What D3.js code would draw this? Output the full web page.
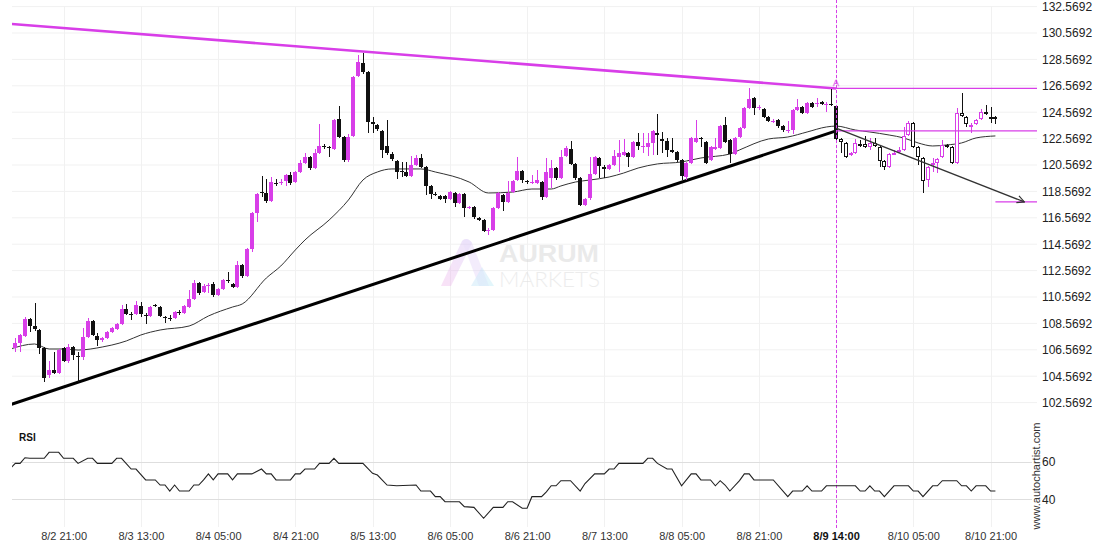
<!DOCTYPE html>
<html><head><meta charset="utf-8">
<script src="https://cdn.jsdelivr.net/npm/d3@7"></script>
<style>
html,body{margin:0;padding:0;background:#fff;}
svg{display:block;font-family:"Liberation Sans",Arial,sans-serif;}
</style></head><body>
<svg id="c" width="1110" height="550"></svg>
<script>
// ---------- DATA ----------
const open = [107.54,106.71,107.08,107.61,108.90,108.37,108.07,106.71,104.66,105.04,104.81,106.71,105.72,106.78,106.10,106.02,107.54,108.75,107.61,107.31,107.46,107.92,108.14,108.52,109.66,109.28,109.28,109.89,109.21,109.13,109.96,109.81,109.09,108.98,108.98,109.43,109.36,109.81,110.42,111.63,110.95,111.40,111.55,110.72,111.18,111.86,111.55,111.33,112.99,112.16,114.21,116.93,118.52,118.45,117.84,119.21,119.24,119.36,119.81,119.28,120.04,120.72,121.18,120.34,121.48,122.01,121.90,121.78,124.05,122.69,120.95,122.77,127.31,128.30,127.62,123.83,123.60,123.15,122.01,121.40,120.87,120.08,120.04,119.74,120.57,121.10,120.42,118.98,118.37,118.22,118.22,117.99,118.45,117.69,118.37,117.31,117.39,116.56,116.40,115.61,115.65,117.31,118.30,117.77,118.52,119.43,120.12,119.32,119.24,119.21,119.28,118.15,119.59,120.34,119.59,121.25,121.78,120.65,119.59,117.54,118.07,119.89,121.10,120.42,120.27,120.57,121.18,121.33,121.48,121.18,122.31,121.97,121.93,122.24,122.99,122.54,122.39,121.71,121.55,120.95,119.66,120.72,122.31,122.62,122.31,120.95,121.78,121.86,123.60,122.46,121.40,122.69,123.37,124.89,125.65,124.93,124.81,124.21,123.86,123.98,123.52,123.18,123.22,124.74,124.96,124.51,125.27,125.23,125.34,125.15,125.19,125.04,122.54,122.24,121.33,121.48,122.16,122.16,121.93,122.24,121.93,120.87,120.42,121.44,121.67,121.71,122.84,123.75,121.93,121.10,119.43,120.57,120.72,121.18,122.09,121.93,120.72,124.51,124.21,123.56,123.68,124.05,124.58,124.24,124.21];
const high = [107.69,107.46,107.77,109.05,108.98,110.11,108.14,106.78,105.72,106.40,106.63,106.78,107.01,106.86,106.40,108.22,108.98,108.83,107.84,107.54,107.99,108.30,108.60,109.96,110.04,109.43,110.27,110.19,109.36,109.89,110.04,109.89,109.13,109.21,109.51,109.59,109.96,111.10,111.86,111.71,111.55,111.63,111.71,111.25,111.93,112.46,111.63,113.30,113.07,114.28,117.01,118.45,119.74,119.51,119.66,119.51,119.51,119.89,120.04,120.12,120.95,121.48,121.25,121.78,123.68,122.16,122.01,124.05,125.04,122.77,122.92,127.31,128.90,129.05,127.69,124.21,123.68,123.22,123.98,121.55,120.95,120.80,120.80,121.25,121.33,121.40,120.49,119.05,118.52,118.30,118.30,118.60,118.52,118.45,118.45,117.46,117.46,116.63,116.48,115.80,117.39,118.52,118.37,119.36,119.43,121.18,120.19,119.43,119.81,120.19,119.36,121.10,120.95,120.42,121.71,122.01,122.39,120.72,119.66,118.07,121.18,121.25,121.18,120.57,120.65,121.71,122.46,122.54,121.55,122.39,122.99,122.99,122.99,123.22,124.43,123.07,122.62,122.62,121.63,121.02,120.80,122.69,123.98,122.69,122.39,122.01,122.62,123.60,124.21,122.54,122.69,123.45,124.96,126.40,125.72,125.12,124.89,124.28,124.05,124.05,123.60,123.90,124.81,125.57,125.04,125.34,125.34,125.65,125.42,125.34,126.33,125.12,122.62,122.31,121.55,122.54,122.46,122.77,122.62,122.62,122.01,120.95,121.48,121.71,121.93,123.45,123.90,123.83,122.01,121.18,120.49,121.10,121.10,122.46,122.16,122.01,124.89,126.03,124.28,123.75,124.05,124.81,125.12,124.96,124.28];
const low = [106.55,106.40,106.40,107.54,107.92,107.99,106.25,104.13,104.43,104.74,104.74,105.64,105.57,105.79,104.13,105.79,107.46,107.61,106.86,107.16,107.39,107.84,108.07,108.45,109.21,108.83,109.21,109.05,108.52,109.05,109.81,109.05,108.60,108.75,108.90,109.21,109.28,109.74,110.34,110.72,110.87,110.87,110.57,110.65,111.10,111.63,111.25,111.25,112.01,112.08,113.98,116.25,118.15,117.69,117.77,118.98,119.05,118.98,119.05,119.21,119.96,120.65,120.19,120.27,121.40,121.78,121.18,121.71,122.62,120.80,120.80,122.69,127.24,127.46,122.99,122.99,123.15,121.10,121.33,120.87,119.51,119.66,119.66,119.66,120.49,120.34,118.30,117.99,118.22,117.92,117.69,117.92,117.39,117.61,116.63,117.24,116.48,116.33,115.49,115.27,115.57,117.24,117.09,117.69,118.45,119.36,119.21,119.13,119.13,119.13,117.92,118.07,118.83,119.43,119.51,121.18,120.57,119.43,117.46,117.46,117.92,119.81,119.59,119.59,120.19,120.49,120.04,121.25,120.42,121.10,121.71,121.48,121.25,121.33,121.33,121.48,121.18,121.48,120.80,119.43,119.43,120.65,122.24,121.93,120.65,120.87,121.71,121.78,122.24,120.72,121.33,122.62,123.30,124.81,124.36,124.74,124.13,123.83,123.75,123.37,123.07,122.99,122.92,124.66,124.43,124.43,124.89,124.96,125.12,124.58,125.04,122.24,121.48,121.10,121.25,121.40,121.93,121.86,121.71,121.93,120.42,120.19,120.34,121.33,121.48,121.63,122.77,121.86,120.57,118.45,118.90,120.04,119.96,121.10,121.86,120.65,120.65,124.21,123.45,122.99,123.60,123.98,124.36,123.75,123.68];
const close = [106.71,107.08,107.69,108.90,108.37,108.14,106.71,104.43,105.04,104.81,106.55,105.72,106.78,106.17,106.06,107.54,108.75,107.69,107.31,107.46,107.92,108.22,108.52,109.66,109.28,109.21,109.96,109.28,109.13,109.81,109.92,109.13,109.05,108.94,109.43,109.36,109.89,110.42,111.63,110.87,111.40,111.48,110.72,111.18,111.86,111.78,111.33,112.99,112.16,114.21,116.93,118.37,118.49,117.84,119.28,119.17,119.28,119.81,119.21,120.04,120.72,121.18,120.34,121.48,122.01,121.93,121.86,123.98,122.69,120.95,122.69,127.24,128.37,127.62,123.83,123.68,123.30,121.71,121.48,121.02,120.04,120.04,119.74,120.57,121.10,120.42,118.98,118.37,118.33,117.99,117.99,118.52,117.69,118.37,117.31,117.39,116.63,116.40,115.57,115.65,117.31,118.45,117.77,118.45,119.36,120.12,119.43,119.28,119.28,119.43,118.15,120.04,120.34,119.59,121.18,121.86,120.65,119.59,117.54,117.99,119.89,121.18,120.49,120.27,120.57,121.25,121.48,121.55,121.18,122.31,122.01,122.01,122.24,123.15,122.84,122.39,121.71,121.55,120.95,119.74,120.72,122.62,122.62,122.54,120.72,121.93,121.93,123.52,122.31,121.40,122.62,123.37,124.89,125.57,124.89,124.96,124.21,123.90,123.90,123.52,123.22,123.22,124.74,124.96,124.51,125.27,124.96,125.27,125.19,125.19,125.15,122.54,122.31,121.18,121.48,122.24,122.12,121.93,122.24,122.01,120.87,120.42,121.40,121.48,121.71,122.77,123.75,121.93,121.18,119.36,120.42,120.72,121.02,122.09,121.93,120.72,124.51,124.28,123.68,123.60,123.98,124.58,124.43,124.21,124.05];

// moving average, candle index / value
const maIdx = [0,5,8,11,14,19,21,24,27,31,37,41,46,48,53,56,59,61,66,70,73,76,79,85,88,95,99,104,108,112,114,117,120,124,127,130,134,139,141,143,149,151,157,161,165,169,171,175,178,182,185,188,191,194,197,200,204];
const maVal = [106.63,107.01,106.63,106.63,106.55,106.78,106.93,107.24,107.69,108.07,108.37,109.13,109.81,110.04,112.01,112.92,114.13,114.89,116.40,117.92,119.43,120.04,120.27,120.27,120.04,119.28,118.45,118.52,118.75,118.75,118.98,119.28,119.43,119.66,119.96,120.34,120.65,120.80,120.95,121.10,121.40,121.71,122.54,122.69,123.07,123.45,123.52,123.22,123.07,122.84,122.62,122.24,122.01,122.09,122.24,122.62,122.77];

// RSI, candle index / value
const rsiIdx = [0,1,2,3,4,7,8,10,11,13,14,16,17,18,21,22,23,25,26,28,30,31,32,33,34,35,37,38,39,40,41,42,43,45,46,47,50,52,53,54,55,58,59,60,61,63,64,66,67,68,73,75,76,78,80,84,85,87,88,89,90,93,94,96,98,100,102,103,104,106,107,108,110,111,112,113,114,116,118,119,121,123,124,125,126,131,132,133,134,136,137,139,141,142,143,145,146,147,148,149,151,152,153,154,158,161,162,164,165,166,168,169,175,176,177,178,179,180,181,183,186,187,188,189,191,192,193,196,197,198,199,200,202,203,204];
const rsiVal = [56.5,59.1,59.1,62.1,61.8,61.8,65.0,65.0,61.8,61.8,59.1,61.8,61.8,59.1,59.1,61.8,61.8,56.1,56.1,50.3,50.3,47.6,47.6,44.4,47.6,44.4,44.4,47.6,47.6,50.3,53.5,50.3,53.5,53.5,50.3,53.5,53.5,56.1,53.5,53.5,50.3,50.3,53.5,53.5,56.1,56.1,59.1,59.1,61.8,59.1,59.1,53.8,52.9,47.6,47.2,47.6,44.4,44.4,41.4,41.4,38.7,38.7,36.1,35.7,29.9,35.7,35.7,38.7,38.7,35.2,35.2,41.4,41.4,44.0,47.2,47.2,49.9,49.9,44.4,48.4,53.5,53.5,56.1,56.1,59.1,59.1,61.8,61.8,59.1,56.1,56.1,47.2,53.5,53.5,50.3,50.3,47.2,49.9,47.6,44.4,49.9,53.5,53.5,50.3,50.3,41.4,44.4,44.4,47.2,44.4,44.4,47.2,47.2,44.4,44.4,47.2,44.4,44.4,41.4,47.2,47.2,44.4,44.4,41.4,47.2,47.2,49.9,49.9,47.2,47.2,44.4,47.2,47.2,44.4,44.4];

const priceTicks = [132.5692,130.5692,128.5692,126.5692,124.5692,122.5692,120.5692,118.5692,116.5692,114.5692,112.5692,110.5692,108.5692,106.5692,104.5692,102.5692];
const rsiTicks = [60,40];
const timeTickIdx = [11,27,43,59,75,91,107,123,139,155,171,187,203];
const timeTickLabels = ["8/2 21:00","8/3 13:00","8/4 05:00","8/4 21:00","8/5 13:00","8/6 05:00","8/6 21:00","8/7 13:00","8/8 05:00","8/8 21:00","8/9 14:00","8/10 05:00","8/10 21:00"];
const patternIdx = 171;

// pattern lines
const resIdx = [0,171], resVal = [131.26,126.36];
const supIdx = [0,171], supVal = [102.42,123.15];
const resLevel = 126.38, supLevel = 123.15;
const targetLevel = 117.77, targetStartIdx = 204;
const arrowIdx = [171,210], arrowVal = [123.37,117.77];

// ---------- DRAW ----------
const MAG = "#d83ee8", BLK = "#111";
const svg = d3.select("#c");
const plotL = 12, plotR = 1032, gridR = 1037;
const x = d3.scaleLinear().domain([0.32, 211.58]).range([plotL, plotR]);
const y = d3.scaleLinear().domain([102.5692, 132.5692]).range([402.6, 6.6]);
const yR = d3.scaleLinear().domain([40, 60]).range([499.3, 461.7]);

// defs
const defs = svg.append("defs");
defs.append("clipPath").attr("id","clipP").append("rect").attr("x",plotL).attr("y",0).attr("width",plotR-plotL+6).attr("height",412);
defs.append("clipPath").attr("id","clipR").append("rect").attr("x",plotL).attr("y",440).attr("width",plotR-plotL).attr("height",90);
defs.append("marker").attr("id","arr").attr("viewBox","0 0 10 10").attr("refX",9).attr("refY",5)
  .attr("markerWidth",9).attr("markerHeight",9).attr("markerUnits","userSpaceOnUse").attr("orient","auto")
  .append("path").attr("d","M1,1 L9,5 L1,9").attr("fill","none").attr("stroke","#333").attr("stroke-width",1.3);
const lg = defs.append("linearGradient").attr("id","lg1").attr("x1","0").attr("y1","1").attr("x2","1").attr("y2","0");
lg.append("stop").attr("offset","0").attr("stop-color","#f0a8e8");
lg.append("stop").attr("offset","1").attr("stop-color","#c9b6f5");
const lg2 = defs.append("linearGradient").attr("id","lg2").attr("x1","0").attr("y1","0").attr("x2","1").attr("y2","1");
lg2.append("stop").attr("offset","0").attr("stop-color","#b9d3f7");
lg2.append("stop").attr("offset","1").attr("stop-color","#a9e8f5");

// grid
const grid = svg.append("g");
grid.selectAll(".hg").data(priceTicks).join("line")
  .attr("x1",plotL).attr("x2",gridR).attr("y1",d=>y(d)).attr("y2",d=>y(d))
  .attr("stroke","#f1f1f1").attr("stroke-width",1);
grid.selectAll(".vg").data(timeTickIdx).join("line")
  .attr("x1",d=>Math.round(x(d))+0.5).attr("x2",d=>Math.round(x(d))+0.5).attr("y1",y(132.5692)).attr("y2",527)
  .attr("stroke","#f1f1f1").attr("stroke-width",1);
grid.selectAll(".rg").data(rsiTicks).join("line")
  .attr("x1",plotL).attr("x2",plotR).attr("y1",d=>Math.round(yR(d))+0.5).attr("y2",d=>Math.round(yR(d))+0.5)
  .attr("stroke","#dedede").attr("stroke-width",1);

// watermark
const wm = svg.append("g").attr("opacity",0.55);
wm.append("path").attr("d","M441,286 L451,286 L472,243 Q467,236 462,241 Z").attr("fill","url(#lg1)").attr("opacity",0.6);
wm.append("path").attr("d","M462,241 Q467,236 472,243 L489,286 L479,286 Z").attr("fill","#dcc8f6").attr("opacity",0.6);
wm.append("path").attr("d","M471,286 L482,267 L494,286 Z").attr("fill","url(#lg2)").attr("opacity",0.6);
wm.append("text").attr("x",499).attr("y",262).attr("font-size",24).attr("font-weight","bold")
  .attr("textLength",100).attr("lengthAdjust","spacingAndGlyphs").attr("fill","#d9d9d9").text("AURUM");
wm.append("text").attr("x",499).attr("y",287).attr("font-size",21).attr("font-family","Lato, 'Open Sans', sans-serif").attr("font-weight",300)
  .attr("textLength",101).attr("lengthAdjust","spacingAndGlyphs").attr("fill","#dedede").text("MARKETS");

// main plot
const P = svg.append("g").attr("clip-path","url(#clipP)");

// moving average
const maData = maIdx.map((k,i)=>[k,maVal[i]]);
P.append("path").datum(maData)
  .attr("d", d3.line().x(d=>x(d[0])).y(d=>y(d[1])).curve(d3.curveMonotoneX))
  .attr("fill","none").attr("stroke","#333").attr("stroke-width",1);

// support & resistance
P.append("path").datum(supIdx.map((k,i)=>[k,supVal[i]]))
  .attr("d", d3.line().x(d=>x(d[0])).y(d=>y(d[1])))
  .attr("stroke","#000").attr("stroke-width",3).attr("fill","none");
P.append("path").datum(resIdx.map((k,i)=>[k,resVal[i]]))
  .attr("d", d3.line().x(d=>x(d[0])).y(d=>y(d[1])))
  .attr("stroke",MAG).attr("stroke-width",2.6).attr("fill","none");

// candles
const candles = open.map((o,i)=>({i,o,h:high[i],l:low[i],c:close[i]}));
const cg = P.append("g").attr("shape-rendering","crispEdges");
const cx = d => Math.round(x(d.i));
const col = d => d.c >= d.o ? MAG : BLK;
cg.selectAll(".w").data(candles).join("line")
  .attr("x1",d=>cx(d)).attr("x2",d=>cx(d))
  .attr("y1",d=>Math.round(y(d.h))).attr("y2",d=>Math.round(y(d.l)))
  .attr("stroke",col).attr("stroke-width",1);
cg.selectAll(".b").data(candles).join("rect")
  .each(function(d){
    const top = Math.round(y(Math.max(d.o,d.c)));
    const bot = Math.round(y(Math.min(d.o,d.c)));
    const hollow = d.i > patternIdx;
    const s = d3.select(this);
    if(hollow){
      s.attr("x",cx(d)-1.5).attr("width",3).attr("y",top+0.5).attr("height",Math.max(1,bot-top-1))
       .attr("fill","#fff").attr("stroke",col(d)).attr("stroke-width",1).attr("shape-rendering","auto");
    } else {
      s.attr("x",cx(d)-2).attr("width",4).attr("y",top).attr("height",Math.max(1,bot-top)).attr("fill",col(d));
    }
  });

// pattern levels
const levelG = svg.append("g");
levelG.append("line").attr("x1",x(patternIdx)).attr("x2",gridR).attr("y1",y(resLevel)).attr("y2",y(resLevel))
  .attr("stroke",MAG).attr("stroke-width",1.2);
levelG.append("line").attr("x1",x(patternIdx)).attr("x2",gridR).attr("y1",y(supLevel)).attr("y2",y(supLevel))
  .attr("stroke",MAG).attr("stroke-width",1.2);
levelG.append("line").attr("x1",x(targetStartIdx)).attr("x2",gridR).attr("y1",y(targetLevel)).attr("y2",y(targetLevel))
  .attr("stroke",MAG).attr("stroke-width",1.2);
levelG.append("line").attr("x1",x(arrowIdx[0])).attr("y1",y(arrowVal[0])).attr("x2",x(arrowIdx[1])).attr("y2",y(arrowVal[1]))
  .attr("stroke","#333").attr("stroke-width",1.3).attr("marker-end","url(#arr)");
levelG.append("text").attr("x",x(patternIdx)-3).attr("y",y(resLevel)-2).attr("font-size",9)
  .attr("fill","none").attr("stroke",MAG).attr("stroke-width",0.5).attr("opacity",0.8).text("A");

// vertical pattern marker
svg.append("line").attr("x1",Math.round(x(patternIdx))+0.5).attr("x2",Math.round(x(patternIdx))+0.5).attr("y1",0).attr("y2",528)
  .attr("stroke",MAG).attr("stroke-width",1).attr("stroke-dasharray","3,2");

// RSI
const R = svg.append("g").attr("clip-path","url(#clipR)");
R.append("path").datum(rsiIdx.map((k,i)=>[k,rsiVal[i]]))
  .attr("d", d3.line().x(d=>x(d[0])).y(d=>yR(d[1])))
  .attr("fill","none").attr("stroke","#222").attr("stroke-width",1.1);
svg.append("text").attr("x",19).attr("y",441).attr("font-size",10).attr("font-weight","bold").attr("fill","#111").text("RSI");

// axes
const styleAxis = g => {
  g.select(".domain").remove();
  g.selectAll("text").attr("font-family","'Liberation Sans', Arial, sans-serif").attr("fill","#222");
};
svg.append("g").attr("transform","translate(1038,0)")
  .call(d3.axisRight(y).tickValues(priceTicks).tickFormat(d3.format(".4f")).tickSize(0).tickPadding(4))
  .call(styleAxis).selectAll("text").attr("font-size",12);
svg.append("g").attr("transform","translate(1038,0)")
  .call(d3.axisRight(yR).tickValues(rsiTicks).tickFormat(d3.format("d")).tickSize(0).tickPadding(4))
  .call(styleAxis).selectAll("text").attr("font-size",12);
svg.append("g").attr("transform","translate(0,529)")
  .call(d3.axisBottom(x).tickValues(timeTickIdx).tickFormat((d,i)=>timeTickLabels[i]).tickSize(0).tickPadding(3))
  .call(styleAxis).selectAll("text").attr("font-size",11)
  .attr("font-weight",(d)=> d===patternIdx ? "bold" : "normal")
  .attr("fill",(d)=> d===patternIdx ? "#111" : "#333");

svg.append("text").attr("transform","translate(1040,476) rotate(-90)").attr("text-anchor","middle")
  .attr("font-size",11).attr("fill","#333").text("www.autochartist.com");
</script>
</body></html>
